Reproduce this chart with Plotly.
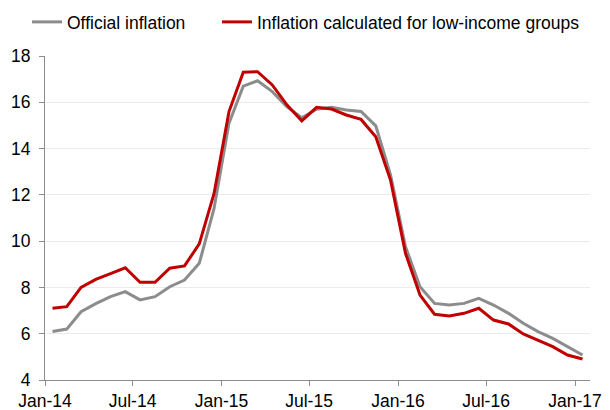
import plotly.graph_objects as go

months = [f"{y}-{m:02d}" for y in (2014, 2015, 2016) for m in range(1, 13)] + ["2017-01"]

official = [6.1, 6.2, 6.95, 7.3, 7.6, 7.82, 7.46, 7.6, 8.03, 8.32, 9.04, 11.4,
            15.1, 16.7, 16.93, 16.46, 15.8, 15.33, 15.7, 15.78, 15.67, 15.6, 14.98, 12.86,
            9.76, 8.03, 7.31, 7.24, 7.31, 7.53, 7.24, 6.88, 6.45, 6.09, 5.8, 5.44, 5.08]
low_income = [7.1, 7.17, 8.0, 8.35, 8.6, 8.85, 8.22, 8.22, 8.83, 8.93, 9.88, 12.05,
              15.6, 17.3, 17.32, 16.75, 15.88, 15.2, 15.78, 15.71, 15.45, 15.26, 14.51, 12.64,
              9.47, 7.67, 6.84, 6.77, 6.88, 7.1, 6.59, 6.42, 5.99, 5.73, 5.44, 5.08, 4.91]

names = ["Official inflation", "Inflation calculated for low-income groups"]
colors = ["#8c8c8c", "#c00000"]
legend_ids = ["legend", "legend2"]

fig = go.Figure()
for name, vals, col, lg in zip(names, [official, low_income], colors, legend_ids):
    fig.add_trace(go.Scatter(
        x=months, y=vals, name=name, mode="lines",
        line=dict(color=col, width=3),
        xperiod="M1", xperiodalignment="middle",
        legend=lg,
    ))

FS = 17.5
W, H = 610, 410
common_legend = dict(orientation="h", xanchor="left", yanchor="middle",
                     xref="container", yref="container",
                     font=dict(size=FS), itemwidth=30,
                     bgcolor="rgba(0,0,0,0)", borderwidth=0)

fig.update_layout(
    width=W, height=H,
    margin=dict(l=37, r=28, t=48, b=38, autoexpand=False),
    paper_bgcolor="white", plot_bgcolor="white",
    font=dict(family="Liberation Sans, Arial, sans-serif", size=FS, color="#000000"),
    showlegend=True,
    legend=dict(common_legend, x=19 / W, y=1 - 14 / H),
    legend2=dict(common_legend, x=209 / W, y=1 - 14 / H),
)

fig.update_xaxes(
    type="date", range=["2014-01-01", "2017-02-01"],
    tick0="2014-01-01", dtick="M6", tickformat="%b-%y",
    showgrid=False, showline=True, linecolor="#8c8c8c", linewidth=1,
    ticks="outside", ticklen=5, tickcolor="#8c8c8c",
    tickfont=dict(size=FS), zeroline=False,
)
fig.update_yaxes(
    range=[4, 18], dtick=2, tick0=4,
    showgrid=True, gridcolor="#ebebeb", gridwidth=1,
    showline=True, linecolor="#8c8c8c", linewidth=1,
    ticks="outside", ticklen=5, tickcolor="#8c8c8c",
    tickfont=dict(size=FS), zeroline=False, ticklabelstandoff=5,
)

fig.write_html("out.html")
